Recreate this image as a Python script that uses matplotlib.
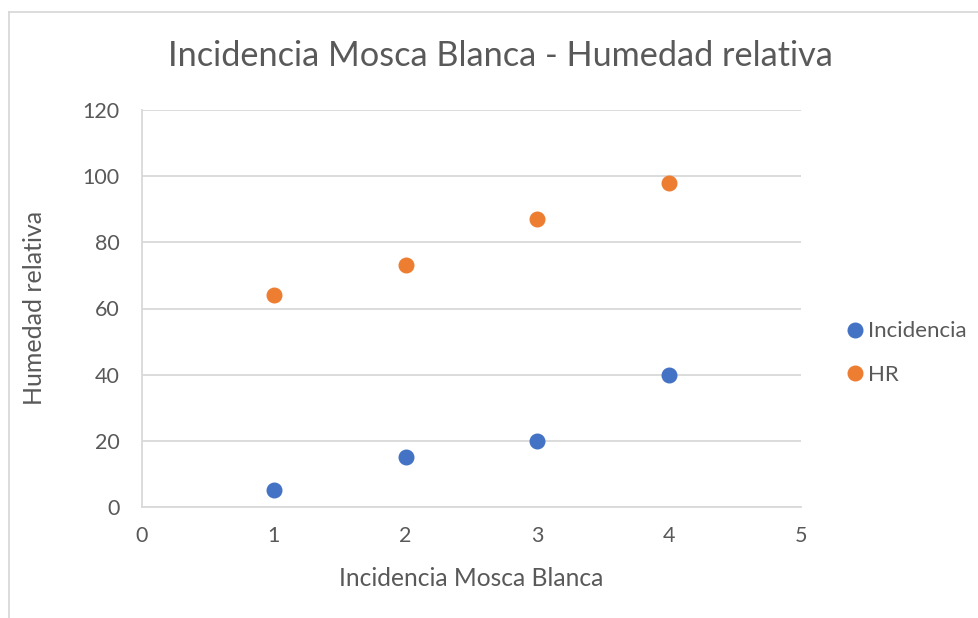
import matplotlib
matplotlib.use("Agg")
import matplotlib.pyplot as plt
from matplotlib.lines import Line2D

x_vals = [1, 2, 3, 4]
incidencia = [5, 15, 20, 40]
hr = [64, 73, 87, 98]
series_names = ["Incidencia", "HR"]
title = "Incidencia Mosca Blanca - Humedad relativa"
xlabel = "Incidencia Mosca Blanca"
ylabel = "Humedad relativa"

plt.rcParams['font.family'] = ['Lato', 'DejaVu Sans']
txt = '#595959'
grid = '#D9D9D9'

fig = plt.figure(figsize=(9.79, 6.18), dpi=100)
ax = fig.add_axes([142/979, 1-507/618, (801-142)/979, (507-110)/618])

ax.plot(x_vals, incidencia, 'o', color='#4472C4', markersize=10.5, label=series_names[0], clip_on=False, zorder=3)
ax.plot(x_vals, hr, 'o', color='#ED7D31', markersize=10.5, label=series_names[1], clip_on=False, zorder=3)

ax.set_xlim(0, 5)
ax.set_ylim(0, 120)
ax.set_xticks(range(0, 6))
ax.set_yticks(range(0, 121, 20))
ax.yaxis.grid(True, color=grid, linewidth=1.3)
ax.set_axisbelow(True)
for s in ['top', 'right']:
    ax.spines[s].set_visible(False)
for s in ['left', 'bottom']:
    ax.spines[s].set_color(grid)
    ax.spines[s].set_linewidth(1.3)
ax.tick_params(axis='both', length=0, labelsize=15.5, colors=txt)
ax.tick_params(axis='x', pad=14)
ax.tick_params(axis='y', pad=16)

fig.text(500/979, 1-56/618, title, ha='center', va='center', fontsize=24.7, color=txt)
fig.text(471/979, 1-578/618, xlabel, ha='center', va='center', fontsize=17.7, color=txt)
fig.text(35/979, 1-308/618, ylabel, ha='center', va='center', fontsize=18, color=txt, rotation=90)

leg = ax.legend(loc='center left', bbox_to_anchor=(844/979, 1-353/618), bbox_transform=fig.transFigure,
                frameon=False, fontsize=16, handletextpad=0.1, labelspacing=1.05, markerscale=1.0,
                handlelength=1.0, borderaxespad=0, borderpad=0)
for t in leg.get_texts():
    t.set_color(txt)

fig.add_artist(Line2D([9/979, 9/979], [0, 1-12/618], transform=fig.transFigure, color='#D9D9D9', linewidth=1.3))
fig.add_artist(Line2D([9/979, 1], [1-12/618, 1-12/618], transform=fig.transFigure, color='#D9D9D9', linewidth=1.3))

fig.savefig('out.png', dpi=100)
